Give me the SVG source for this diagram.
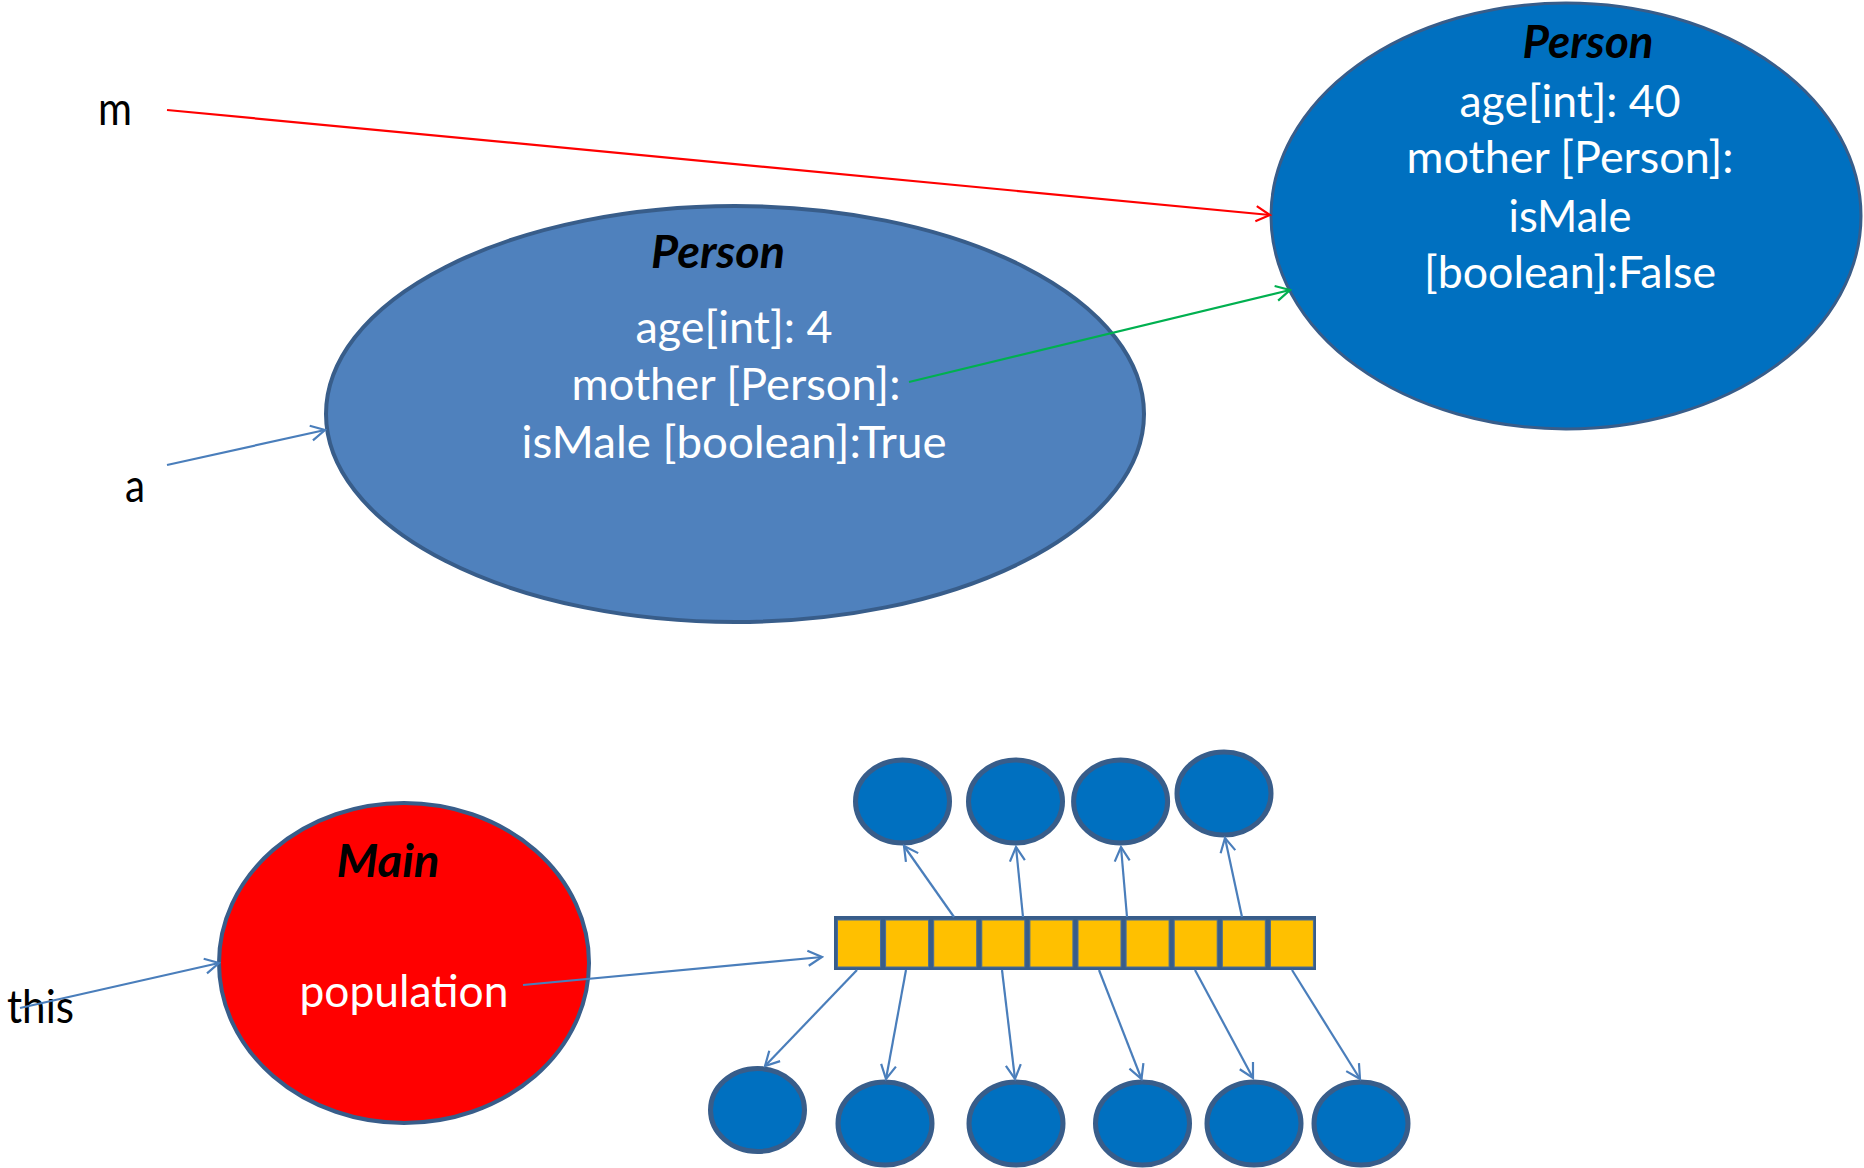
<svg xmlns="http://www.w3.org/2000/svg" width="1864" height="1168" viewBox="0 0 1864 1168">
<style>
.wt{font-family:Lato,"Open Sans","Liberation Sans",sans-serif;font-size:45px;fill:#ffffff;text-anchor:middle}
.tt{font-family:Lato,"Open Sans","Liberation Sans",sans-serif;font-size:45px;font-weight:bold;font-style:italic;fill:#000000;text-anchor:middle}
.bl{font-family:Lato,"Open Sans","Liberation Sans",sans-serif;font-size:46px;fill:#000000}
.obj{stroke:#385D8A;stroke-width:4}
.sm{fill:#0070C0;stroke:#385D8A;stroke-width:5}
.cell{fill:#FFC000;stroke:#4A6E99;stroke-width:1}
.cb{fill:none;stroke:#4A7EBB;stroke-width:2.2;marker-end:url(#ab)}
</style>
<defs>
<marker id="ab" markerUnits="userSpaceOnUse" markerWidth="18" markerHeight="18" viewBox="0 0 18 18" refX="16" refY="9" orient="auto"><path d="M2,1.5 L16,9 L2,16.5" fill="none" stroke="#4A7EBB" stroke-width="2.2"/></marker>
<marker id="ar" markerUnits="userSpaceOnUse" markerWidth="18" markerHeight="18" viewBox="0 0 18 18" refX="16" refY="9" orient="auto"><path d="M2,1.5 L16,9 L2,16.5" fill="none" stroke="#FF0000" stroke-width="2.2"/></marker>
<marker id="ag" markerUnits="userSpaceOnUse" markerWidth="18" markerHeight="18" viewBox="0 0 18 18" refX="16" refY="9" orient="auto"><path d="M2,1.5 L16,9 L2,16.5" fill="none" stroke="#00B050" stroke-width="2.2"/></marker>
</defs>
<rect width="1864" height="1168" fill="#ffffff"/>

<g id="person-mother">
<ellipse cx="1566" cy="216" rx="295" ry="213" fill="#0070C0" stroke="#385D8A" stroke-width="3"/>
<text class="tt" x="1588" y="58" textLength="131" lengthAdjust="spacingAndGlyphs">Person</text>
<text class="wt" x="1570" y="117" textLength="221" lengthAdjust="spacingAndGlyphs">age[int]: 40</text>
<text class="wt" x="1570" y="173" textLength="327" lengthAdjust="spacingAndGlyphs">mother [Person]:</text>
<text class="wt" x="1570" y="232" textLength="123" lengthAdjust="spacingAndGlyphs">isMale</text>
<text class="wt" x="1570" y="288" textLength="292" lengthAdjust="spacingAndGlyphs">[boolean]:False</text>
</g>

<g id="person-child">
<ellipse class="obj" cx="735" cy="414" rx="409" ry="208" fill="#4F81BD"/>
<text class="tt" x="718" y="268" textLength="134" lengthAdjust="spacingAndGlyphs">Person</text>
<text class="wt" x="734" y="343" textLength="197" lengthAdjust="spacingAndGlyphs">age[int]: 4</text>
<text class="wt" x="736" y="400" textLength="329" lengthAdjust="spacingAndGlyphs">mother [Person]:</text>
<text class="wt" x="734" y="458" textLength="425" lengthAdjust="spacingAndGlyphs">isMale [boolean]:True</text>
</g>

<g id="main">
<ellipse class="obj" cx="404" cy="963" rx="185" ry="160" fill="#FF0000"/>
<text class="tt" x="388" y="877" textLength="103" lengthAdjust="spacingAndGlyphs">Main</text>
<text class="wt" x="404" y="1007" textLength="209" lengthAdjust="spacingAndGlyphs">population</text>
</g>

<g id="label-m"><text class="bl" x="98" y="125" textLength="34" lengthAdjust="spacingAndGlyphs">m</text></g>
<g id="label-a"><text class="bl" x="125" y="502" textLength="20" lengthAdjust="spacingAndGlyphs">a</text></g>
<g id="label-this"><text class="bl" x="7" y="1023" textLength="67" lengthAdjust="spacingAndGlyphs">this</text></g>

<g id="array">
<rect x="834" y="916" width="482" height="54" fill="#385D8A"/>
<rect class="cell" x="837.5" y="920" width="43" height="47"/>
<rect class="cell" x="885.6" y="920" width="43" height="47"/>
<rect class="cell" x="933.7" y="920" width="43" height="47"/>
<rect class="cell" x="981.8" y="920" width="43" height="47"/>
<rect class="cell" x="1029.9" y="920" width="43" height="47"/>
<rect class="cell" x="1078" y="920" width="43" height="47"/>
<rect class="cell" x="1126.1" y="920" width="43" height="47"/>
<rect class="cell" x="1174.2" y="920" width="43" height="47"/>
<rect class="cell" x="1222.3" y="920" width="43" height="47"/>
<rect class="cell" x="1270.4" y="920" width="43" height="47"/>
</g>

<g id="obj-top-1"><ellipse class="sm" cx="902.5" cy="801.5" rx="47" ry="41.5"/></g>
<g id="obj-top-2"><ellipse class="sm" cx="1015.5" cy="801.5" rx="47" ry="41.5"/></g>
<g id="obj-top-3"><ellipse class="sm" cx="1120.6" cy="801.5" rx="47" ry="41.5"/></g>
<g id="obj-top-4"><ellipse class="sm" cx="1224" cy="793.5" rx="47" ry="41.5"/></g>
<g id="obj-bot-1"><ellipse class="sm" cx="757.5" cy="1110" rx="47" ry="41.5"/></g>
<g id="obj-bot-2"><ellipse class="sm" cx="885" cy="1123.5" rx="47" ry="41.5"/></g>
<g id="obj-bot-3"><ellipse class="sm" cx="1016" cy="1123.5" rx="47" ry="41.5"/></g>
<g id="obj-bot-4"><ellipse class="sm" cx="1142.5" cy="1123.5" rx="47" ry="41.5"/></g>
<g id="obj-bot-5"><ellipse class="sm" cx="1254" cy="1123.5" rx="47" ry="41.5"/></g>
<g id="obj-bot-6"><ellipse class="sm" cx="1361" cy="1123.5" rx="47" ry="41.5"/></g>

<g id="connectors">
<line x1="167" y1="110" x2="1270" y2="215" stroke="#FF0000" stroke-width="2.2" marker-end="url(#ar)"/>
<line x1="909" y1="382" x2="1290" y2="290" stroke="#00B050" stroke-width="2.2" marker-end="url(#ag)"/>
<line class="cb" x1="167" y1="465" x2="325" y2="430"/>
<line class="cb" x1="20" y1="1008" x2="219" y2="963"/>
<line class="cb" x1="523" y1="985" x2="822" y2="957"/>
<line class="cb" x1="954" y1="917" x2="904" y2="846"/>
<line class="cb" x1="1023" y1="917" x2="1016" y2="847"/>
<line class="cb" x1="1127" y1="917" x2="1121" y2="847"/>
<line class="cb" x1="1242" y1="917" x2="1225" y2="838"/>
<line class="cb" x1="857" y1="970" x2="765" y2="1066"/>
<line class="cb" x1="906" y1="970" x2="886" y2="1079"/>
<line class="cb" x1="1002" y1="970" x2="1015" y2="1079"/>
<line class="cb" x1="1099" y1="970" x2="1141.5" y2="1079"/>
<line class="cb" x1="1195" y1="970" x2="1253" y2="1078"/>
<line class="cb" x1="1292" y1="970" x2="1360" y2="1079"/>
</g>
</svg>
